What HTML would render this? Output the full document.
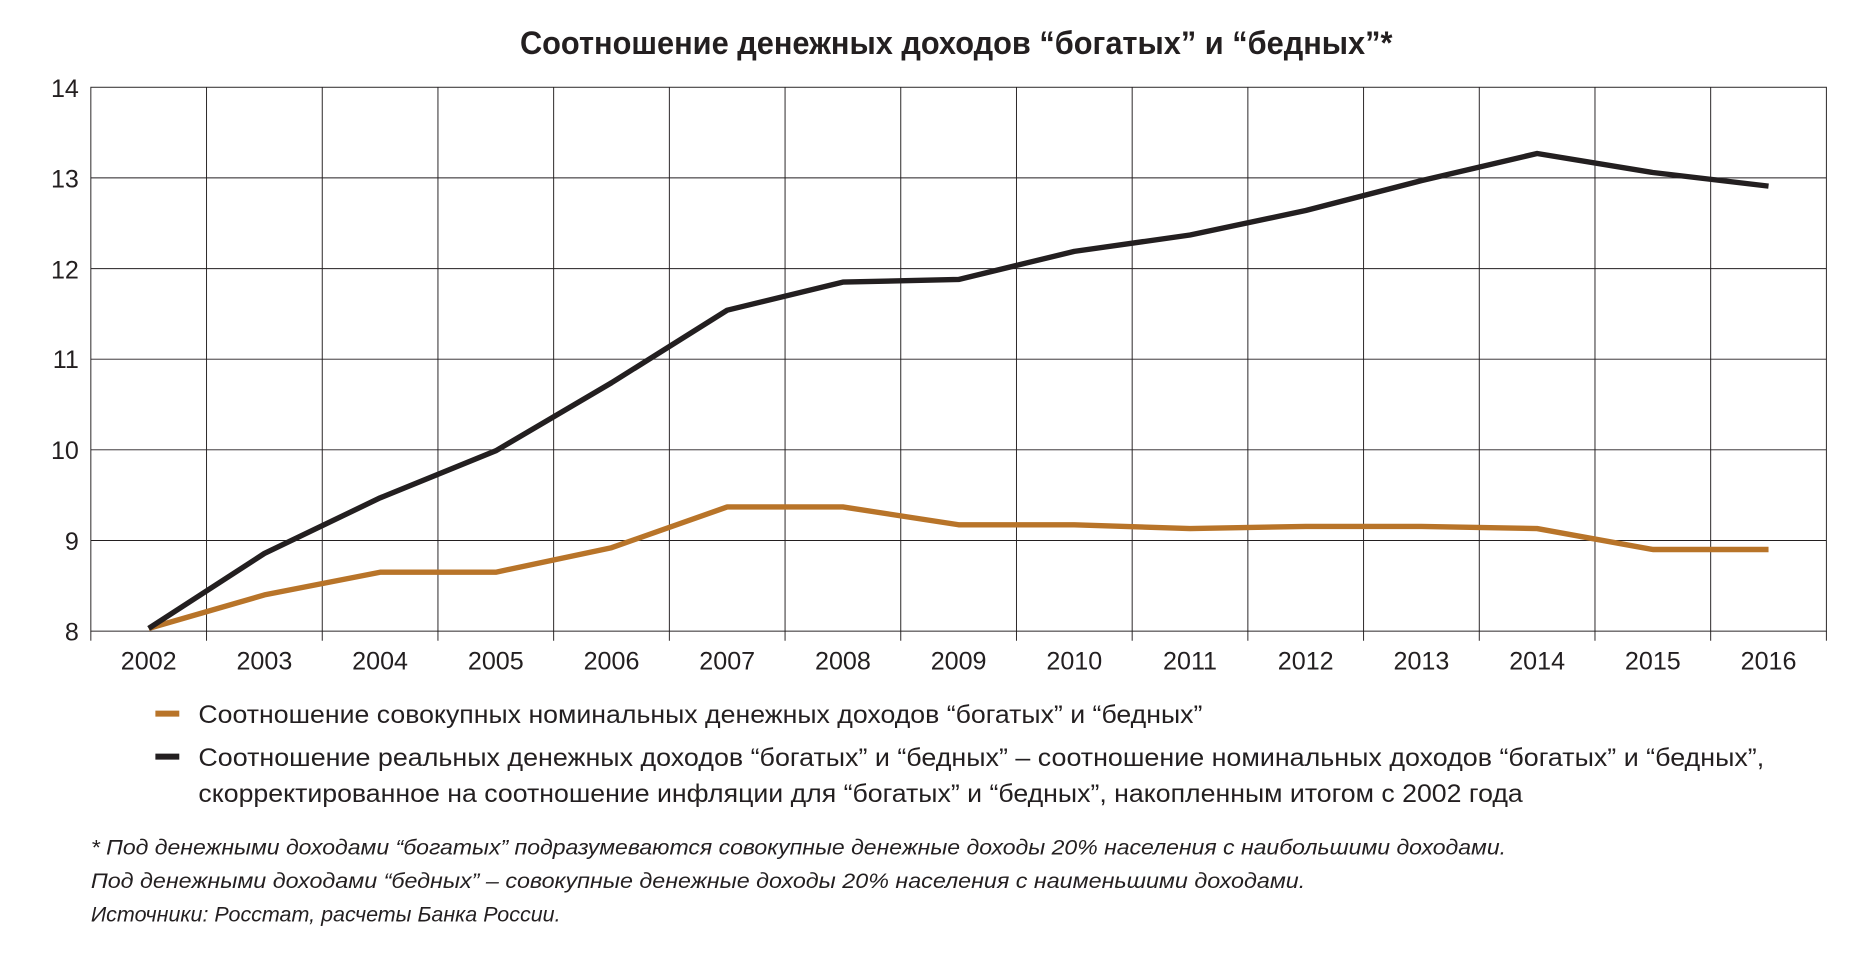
<!DOCTYPE html>
<html><head><meta charset="utf-8"><style>
html,body{margin:0;padding:0;background:#fff}
svg{display:block}
text{font-family:"Liberation Sans Narrow","Liberation Sans",sans-serif;fill:#231f20}
</style></head><body>
<svg width="1873" height="965" viewBox="0 0 1567 807.3" preserveAspectRatio="none" xmlns="http://www.w3.org/2000/svg">
<text x="800" y="45" text-anchor="middle" font-size="27" font-weight="bold" textLength="730" lengthAdjust="spacingAndGlyphs">Соотношение денежных доходов “богатых” и “бедных”*</text>
<g stroke="#231f20" stroke-width="0.8" fill="none">
<rect x="76" y="73" width="1452" height="455"/>
<line x1="76" x2="1528" y1="148.8" y2="148.8"/>
<line x1="76" x2="1528" y1="224.7" y2="224.7"/>
<line x1="76" x2="1528" y1="300.5" y2="300.5"/>
<line x1="76" x2="1528" y1="376.3" y2="376.3"/>
<line x1="76" x2="1528" y1="452.2" y2="452.2"/>
<line x1="172.8" x2="172.8" y1="73" y2="536"/>
<line x1="269.6" x2="269.6" y1="73" y2="536"/>
<line x1="366.4" x2="366.4" y1="73" y2="536"/>
<line x1="463.2" x2="463.2" y1="73" y2="536"/>
<line x1="560" x2="560" y1="73" y2="536"/>
<line x1="656.8" x2="656.8" y1="73" y2="536"/>
<line x1="753.6" x2="753.6" y1="73" y2="536"/>
<line x1="850.4" x2="850.4" y1="73" y2="536"/>
<line x1="947.2" x2="947.2" y1="73" y2="536"/>
<line x1="1044" x2="1044" y1="73" y2="536"/>
<line x1="1140.8" x2="1140.8" y1="73" y2="536"/>
<line x1="1237.6" x2="1237.6" y1="73" y2="536"/>
<line x1="1334.4" x2="1334.4" y1="73" y2="536"/>
<line x1="1431.2" x2="1431.2" y1="73" y2="536"/>
<line x1="1528" x2="1528" y1="528" y2="536"/>
<line x1="76" x2="76" y1="528" y2="536"/>
</g>
<g font-size="21" text-anchor="end">
<text x="66" y="81">14</text><text x="66" y="157">13</text><text x="66" y="233">12</text>
<text x="66" y="308">11</text><text x="66" y="384">10</text><text x="66" y="460">9</text><text x="66" y="536">8</text>
</g>
<g font-size="21" text-anchor="middle">
<text x="124.4" y="560">2002</text><text x="221.2" y="560">2003</text><text x="318" y="560">2004</text>
<text x="414.8" y="560">2005</text><text x="511.6" y="560">2006</text><text x="608.4" y="560">2007</text>
<text x="705.2" y="560">2008</text><text x="802" y="560">2009</text><text x="898.8" y="560">2010</text>
<text x="995.6" y="560">2011</text><text x="1092.4" y="560">2012</text><text x="1189.2" y="560">2013</text>
<text x="1286" y="560">2014</text><text x="1382.8" y="560">2015</text><text x="1479.6" y="560">2016</text>
</g>
<polyline fill="none" stroke="#b87429" stroke-width="4.5" stroke-linejoin="round" points="124.4,525.7 221.2,497.7 318,478.7 414.8,478.7 511.6,458.2 608.4,424.1 705.2,424.1 802,439 898.8,439 995.6,442.2 1092.4,440.4 1189.2,440.4 1286,442.2 1382.8,459.7 1479.6,459.7"/>
<polyline fill="none" stroke="#231f20" stroke-width="4.5" stroke-linejoin="round" points="124.4,525.7 221.2,463 318,416.5 414.8,377.1 511.6,320.2 608.4,259.5 705.2,236 802,233.8 898.8,210.3 995.6,196.6 1092.4,176.1 1189.2,151.1 1286,128.4 1382.8,144.3 1479.6,155.7"/>
<line x1="130" x2="150" y1="597" y2="597" stroke="#b87429" stroke-width="5"/>
<line x1="130" x2="150" y1="633" y2="633" stroke="#231f20" stroke-width="5"/>
<g font-size="21">
<text x="166" y="605" textLength="840" lengthAdjust="spacingAndGlyphs">Соотношение совокупных номинальных денежных доходов “богатых” и “бедных”</text>
<text x="166" y="641" textLength="1310" lengthAdjust="spacingAndGlyphs">Соотношение реальных денежных доходов “богатых” и “бедных” –  соотношение номинальных доходов “богатых” и “бедных”,</text>
<text x="166" y="671" textLength="1108" lengthAdjust="spacingAndGlyphs">скорректированное на соотношение инфляции для “богатых” и “бедных”, накопленным итогом с 2002 года</text>
</g>
<g font-size="18" font-style="italic">
<text x="76" y="715" textLength="1184" lengthAdjust="spacingAndGlyphs">* Под денежными доходами “богатых” подразумеваются совокупные денежные доходы 20% населения с наибольшими доходами.</text>
<text x="76" y="743" textLength="1016" lengthAdjust="spacingAndGlyphs">Под денежными доходами “бедных” – совокупные денежные доходы 20% населения с наименьшими доходами.</text>
<text x="76" y="771" textLength="393" lengthAdjust="spacingAndGlyphs">Источники: Росстат, расчеты Банка России.</text>
</g>
</svg>
</body></html>
